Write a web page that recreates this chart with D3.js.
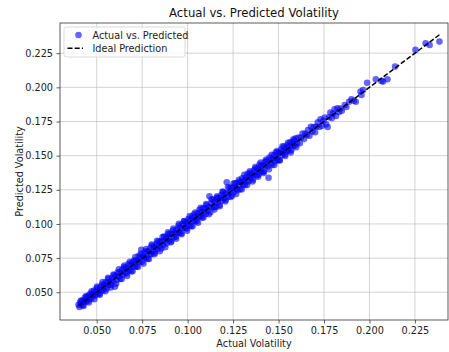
<!DOCTYPE html>
<html>
<head>
<meta charset="utf-8">
<script src="https://cdn.jsdelivr.net/npm/d3@7"></script>
<style>
  body { margin: 0; background: #fff; }
  svg { font-family: "DejaVu Sans", sans-serif; }
</style>
</head>
<body>
<div id="chart"></div>
<script>
// Actual volatility values (x)
const actual = [
  0.0400,0.0405,0.0410,0.0415,0.0420,0.0425,0.0430,0.0435,0.0440,0.0445,
  0.0450,0.0455,0.0460,0.0465,0.0470,0.0475,0.0480,0.0485,0.0490,0.0495,
  0.0500,0.0505,0.0510,0.0515,0.0520,0.0525,0.0530,0.0535,0.0540,0.0545,
  0.0550,0.0555,0.0560,0.0565,0.0570,0.0575,0.0580,0.0585,0.0590,0.0595,
  0.0600,0.0605,0.0610,0.0615,0.0620,0.0625,0.0630,0.0635,0.0640,0.0645,
  0.0650,0.0655,0.0660,0.0665,0.0670,0.0675,0.0680,0.0685,0.0690,0.0695,
  0.0700,0.0705,0.0710,0.0715,0.0720,0.0725,0.0730,0.0735,0.0740,0.0745,
  0.0750,0.0755,0.0760,0.0765,0.0770,0.0775,0.0780,0.0785,0.0790,0.0795,
  0.0800,0.0805,0.0810,0.0815,0.0820,0.0825,0.0830,0.0835,0.0840,0.0845,
  0.0850,0.0855,0.0860,0.0865,0.0870,0.0875,0.0880,0.0885,0.0890,0.0895,
  0.0900,0.0905,0.0910,0.0915,0.0920,0.0925,0.0930,0.0935,0.0940,0.0945,
  0.0950,0.0955,0.0960,0.0965,0.0970,0.0975,0.0980,0.0985,0.0990,0.0995,
  0.1000,0.1005,0.1010,0.1015,0.1020,0.1025,0.1030,0.1035,0.1040,0.1045,
  0.1050,0.1055,0.1060,0.1065,0.1070,0.1075,0.1080,0.1085,0.1090,0.1095,
  0.1100,0.1105,0.1110,0.1115,0.1120,0.1125,0.1130,0.1135,0.1140,0.1145,
  0.1150,0.1155,0.1160,0.1165,0.1170,0.1175,0.1180,0.1185,0.1190,0.1195,
  0.1200,0.1205,0.1210,0.1215,0.1220,0.1225,0.1230,0.1235,0.1240,0.1245,
  0.1250,0.1255,0.1260,0.1265,0.1270,0.1275,0.1280,0.1285,0.1290,0.1295,
  0.1300,0.1305,0.1310,0.1315,0.1320,0.1325,0.1330,0.1335,0.1340,0.1345,
  0.1350,0.1355,0.1360,0.1365,0.1370,0.1375,0.1380,0.1385,0.1390,0.1395,
  0.1400,0.1405,0.1410,0.1415,0.1420,0.1425,0.1430,0.1435,0.1440,0.1445,
  0.1450,0.1455,0.1460,0.1465,0.1470,0.1475,0.1480,0.1485,0.1490,0.1495,
  0.1500,0.1505,0.1510,0.1515,0.1520,0.1525,0.1530,0.1535,0.1540,0.1545,
  0.1550,0.1555,0.1560,0.1565,0.1570,0.1575,0.1580,0.1585,0.1590,0.1595,
  0.1602,0.1609,0.1617,0.1624,0.1632,0.1640,0.1647,0.1655,0.1662,0.1670,
  0.1678,0.1686,0.1693,0.1701,0.1708,0.1716,0.1724,0.1731,0.1739,0.1746,
  0.1754,0.1762,0.1770,0.1778,0.1785,0.1793,0.1800,0.1808,0.1816,0.1824,0.1832,0.1840,0.1848,
  0.1864,0.1873,0.1888,0.1901,0.1914,0.1925,0.1951,0.1956,0.1965,0.1987,
  0.2035,0.2066,0.2075,0.2099,0.2141,0.2253,0.2309,0.2331,0.2385,
  0.0412,0.0427,0.0442,0.0457,0.0472,0.0487,0.0502,0.0517,0.0532,0.0547,
  0.0562,0.0577,0.0592,0.0607,0.0622,0.0637,0.0652,0.0667,0.0682,0.0697,
  0.0712,0.0727,0.0742,0.0757,0.0772,0.0787,0.0802,0.0817,0.0832,0.0847,
  0.0862,0.0877,0.0892,0.0907,0.0922,0.0937,0.0952,0.0967,0.0982,0.0997,
  0.1012,0.1027,0.1042,0.1057,0.1072,0.1087,0.1102,0.1117,0.1132,0.1147,
  0.1162,0.1177,0.1192,0.1207,0.1222,0.1237,0.1252,0.1267,0.1282,0.1297,
  0.1312,0.1327,0.1342,0.1357,0.1372,0.1387,0.1402,0.1417,0.1432,0.1447,
  0.1462,0.1477,0.1492,0.1507,0.1522,0.1537,0.1552,0.1567,0.1582,0.1597
];

// Predicted volatility values (y)
const predicted = [
  0.0408,0.0393,0.0425,0.0410,0.0442,0.0407,0.0434,0.0461,0.0431,0.0462,
  0.0436,0.0476,0.0453,0.0490,0.0450,0.0486,0.0477,0.0513,0.0474,0.0504,
  0.0531,0.0487,0.0516,0.0490,0.0539,0.0516,0.0557,0.0513,0.0553,0.0541,
  0.0574,0.0526,0.0570,0.0598,0.0555,0.0577,0.0553,0.0603,0.0582,0.0624,
  0.0540,0.0619,0.0589,0.0645,0.0614,0.0647,0.0597,0.0643,0.0666,0.0628,
  0.0685,0.0645,0.0677,0.0637,0.0674,0.0706,0.0661,0.0697,0.0654,0.0718,
  0.0693,0.0733,0.0686,0.0730,0.0688,0.0731,0.0766,0.0722,0.0760,0.0810,
  0.0724,0.0764,0.0757,0.0797,0.0752,0.0800,0.0743,0.0799,0.0781,0.0824,
  0.0779,0.0842,0.0799,0.0833,0.0790,0.0830,0.0857,0.0819,0.0873,0.0839,
  0.0871,0.0821,0.0872,0.0846,0.0908,0.0873,0.0906,0.0858,0.0898,0.0926,
  0.0885,0.0929,0.0872,0.0925,0.0954,0.0903,0.0933,0.0906,0.0959,0.0937,
  0.0986,0.0935,0.0973,0.0932,0.0997,0.0970,0.1019,0.0971,0.1012,0.0967,
  0.1009,0.1037,0.0986,0.1031,0.0983,0.1053,0.1020,0.1070,0.1021,0.1049,
  0.1019,0.1078,0.1054,0.1103,0.1054,0.1086,0.1045,0.1114,0.1088,0.1113,
  0.1073,0.1139,0.1097,0.1122,0.1202,0.1086,0.1155,0.1127,0.1176,0.1123,
  0.1164,0.1125,0.1191,0.1161,0.1191,0.1139,0.1189,0.1212,0.1172,0.1233,
  0.1188,0.1224,0.1177,0.1305,0.1226,0.1200,0.1263,0.1232,0.1266,0.1207,
  0.1265,0.1234,0.1297,0.1256,0.1300,0.1247,0.1282,0.1309,0.1255,0.1306,
  0.1335,0.1288,0.1318,0.1283,0.1342,0.1319,0.1368,0.1311,0.1353,0.1374,
  0.1336,0.1359,0.1324,0.1392,0.1369,0.1408,0.1357,0.1402,0.1360,0.1434,
  0.1392,0.1426,0.1383,0.1427,0.1382,0.1455,0.1426,0.1460,0.1421,0.1338,
  0.1486,0.1443,0.1478,0.1432,0.1477,0.1503,0.1458,0.1525,0.1485,0.1466,
  0.1522,0.1468,0.1520,0.1546,0.1504,0.1528,0.1566,0.1509,0.1555,0.1537,
  0.1577,0.1535,0.1565,0.1599,0.1539,0.1593,0.1571,0.1610,0.1575,0.1627,
  0.1590,0.1632,0.1590,0.1632,0.1662,0.1621,0.1661,0.1649,0.1688,0.1646,
  0.1711,0.1677,0.1710,0.1671,0.1713,0.1744,0.1710,0.1767,0.1718,0.1756,
  0.1779,0.1729,0.1710,0.1781,0.1816,0.1775,0.1808,0.1840,0.1791,0.1846,0.1820,0.1845,0.1828,
  0.1871,0.1856,0.1895,0.1913,0.1902,0.1895,0.1969,0.1944,0.1981,0.2034,
  0.2059,0.2047,0.2042,0.2059,0.2152,0.2274,0.2323,0.2310,0.2335,
  0.0437,0.0399,0.0472,0.0425,0.0507,0.0449,0.0542,0.0481,0.0574,0.0507,
  0.0606,0.0535,0.0630,0.0562,0.0669,0.0597,0.0695,0.0619,0.0723,0.0653,
  0.0758,0.0686,0.0781,0.0710,0.0816,0.0744,0.0850,0.0778,0.0877,0.0801,
  0.0904,0.0829,0.0939,0.0867,0.0966,0.0892,0.1001,0.0925,0.1022,0.0950,
  0.1057,0.0983,0.1083,0.1009,0.1119,0.1048,0.1145,0.1071,0.1180,0.1105,
  0.1202,0.1130,0.1238,0.1164,0.1271,0.1197,0.1296,0.1219,0.1324,0.1252,
  0.1359,0.1285,0.1385,0.1311,0.1417,0.1346,0.1450,0.1373,0.1472,0.1400,
  0.1506,0.1432,0.1533,0.1464,0.1568,0.1497,0.1594,0.1523,0.1620,0.1561
];

const xTicks = [0.050, 0.075, 0.100, 0.125, 0.150, 0.175, 0.200, 0.225];
const yTicks = [0.050, 0.075, 0.100, 0.125, 0.150, 0.175, 0.200, 0.225];
const legendLabels = ['Actual vs. Predicted', 'Ideal Prediction'];

const width = 449, height = 352;
const margin = { top: 23, right: 1, bottom: 32, left: 60 };
const innerW = width - margin.left - margin.right;
const innerH = height - margin.top - margin.bottom;

const data = actual.map((a, i) => ({ a: a, p: predicted[i] }));

const x = d3.scaleLinear().domain([0.0298, 0.2432]).range([0, innerW]);
const y = d3.scaleLinear().domain([0.0297, 0.2471]).range([innerH, 0]);

const svg = d3.select('#chart').append('svg')
  .attr('width', width)
  .attr('height', height);

const g = svg.append('g')
  .attr('transform', `translate(${margin.left},${margin.top})`);

// grid
g.append('g')
  .selectAll('line')
  .data(xTicks)
  .join('line')
  .attr('x1', d => x(d)).attr('x2', d => x(d))
  .attr('y1', 0).attr('y2', innerH)
  .attr('stroke', '#b0b0b0').attr('stroke-opacity', 0.7).attr('stroke-width', 0.8);

g.append('g')
  .selectAll('line')
  .data(yTicks)
  .join('line')
  .attr('x1', 0).attr('x2', innerW)
  .attr('y1', d => y(d)).attr('y2', d => y(d))
  .attr('stroke', '#b0b0b0').attr('stroke-opacity', 0.7).attr('stroke-width', 0.8);

// scatter
g.append('g')
  .selectAll('circle')
  .data(data)
  .join('circle')
  .attr('cx', d => x(d.a))
  .attr('cy', d => y(d.p))
  .attr('r', 3.3)
  .attr('fill', 'blue')
  .attr('fill-opacity', 0.6);

// ideal line
const ext = d3.extent(actual);
g.append('line')
  .attr('x1', x(ext[0])).attr('y1', y(ext[0]))
  .attr('x2', x(ext[1])).attr('y2', y(ext[1]))
  .attr('stroke', 'black')
  .attr('stroke-width', 1.5)
  .attr('stroke-dasharray', '5,2.2');

// axes
const xAxis = g.append('g')
  .attr('transform', `translate(0,${innerH})`)
  .call(d3.axisBottom(x).tickValues(xTicks).tickFormat(d3.format('.3f')).tickSize(3.5).tickPadding(3.5));

const yAxis = g.append('g')
  .call(d3.axisLeft(y).tickValues(yTicks).tickFormat(d3.format('.3f')).tickSize(3.5).tickPadding(3.5));

[xAxis, yAxis].forEach(ax => {
  ax.select('.domain').remove();
  ax.selectAll('line').attr('stroke', '#333').attr('stroke-width', 0.8);
  ax.selectAll('text').attr('font-size', 9.7).attr('fill', '#222')
    .attr('font-family', '"DejaVu Sans", sans-serif');
});

// spines
g.append('rect')
  .attr('x', 0).attr('y', 0)
  .attr('width', innerW).attr('height', innerH)
  .attr('fill', 'none')
  .attr('stroke', '#333')
  .attr('stroke-width', 0.8);

// title and labels
svg.append('text')
  .attr('x', margin.left + innerW / 2).attr('y', 17)
  .attr('text-anchor', 'middle')
  .attr('font-size', 11.7).attr('fill', '#111')
  .text('Actual vs. Predicted Volatility');

svg.append('text')
  .attr('x', margin.left + innerW / 2).attr('y', 346.5)
  .attr('text-anchor', 'middle')
  .attr('font-size', 9.7).attr('fill', '#222')
  .text('Actual Volatility');

svg.append('text')
  .attr('transform', `translate(22.5,${margin.top + innerH / 2}) rotate(-90)`)
  .attr('text-anchor', 'middle')
  .attr('font-size', 9.7).attr('fill', '#222')
  .text('Predicted Volatility');

// legend
const legend = svg.append('g').attr('transform', 'translate(64,27)');
legend.append('rect')
  .attr('width', 121).attr('height', 30)
  .attr('rx', 2.5)
  .attr('fill', 'white').attr('fill-opacity', 0.8)
  .attr('stroke', '#d0d0d0').attr('stroke-width', 0.8);

legend.append('circle')
  .attr('cx', 14.5).attr('cy', 8)
  .attr('r', 3.3).attr('fill', 'blue').attr('fill-opacity', 0.6);

legend.append('line')
  .attr('x1', 3.5).attr('x2', 19)
  .attr('y1', 21.3).attr('y2', 21.3)
  .attr('stroke', 'black').attr('stroke-width', 1.5)
  .attr('stroke-dasharray', '5,2.2');

legend.selectAll('text.lbl')
  .data(legendLabels)
  .join('text')
  .attr('class', 'lbl')
  .attr('x', 28.5)
  .attr('y', (d, i) => 11.5 + i * 13.5)
  .attr('font-size', 9.7).attr('fill', '#222')
  .text(d => d);
</script>
</body>
</html>
